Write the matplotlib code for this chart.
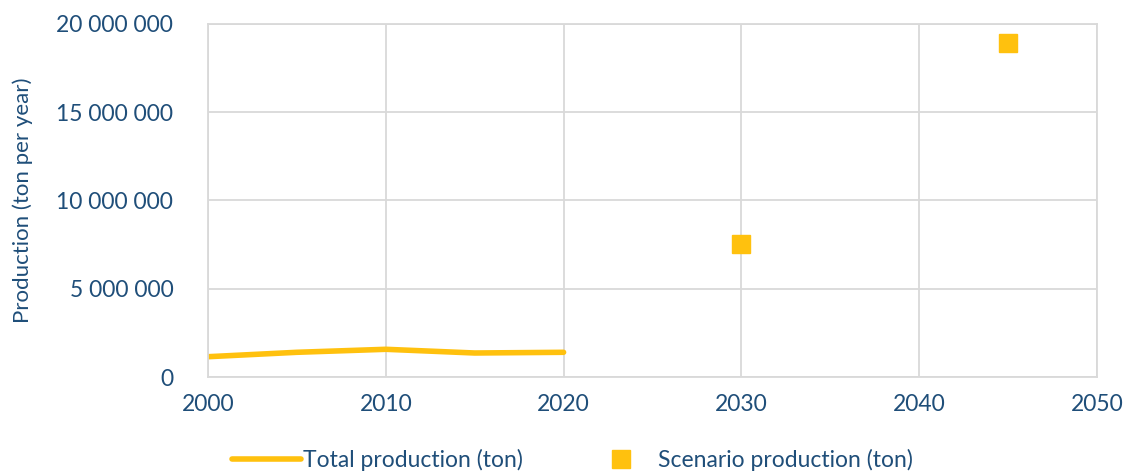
import matplotlib.pyplot as plt
from matplotlib.ticker import FuncFormatter

# Data
years = [2000, 2005, 2010, 2015, 2020]
total_production = [1150000, 1400000, 1570000, 1360000, 1400000]
scenario_years = [2030, 2045]
scenario_production = [7540000, 18920000]

text_color = '#1F4E79'
yellow = '#FFC10E'
grid_color = '#D9D9D9'

plt.rcParams['font.family'] = ['Lato', 'DejaVu Sans']

fig = plt.figure(figsize=(11.28, 4.75), dpi=100)
ax = fig.add_axes([0.1844, 0.2063, 0.7881, 0.7432])

ax.plot(years, total_production, color=yellow, linewidth=4,
        solid_capstyle='round', label='Total production (ton)')
ax.plot(scenario_years, scenario_production, linestyle='none', marker='s',
        markersize=12.5, color=yellow, label='Scenario production (ton)')

ax.set_xlim(2000, 2050)
ax.set_ylim(0, 20000000)
ax.set_xticks(range(2000, 2051, 10))
ax.set_yticks(range(0, 20000001, 5000000))
ax.yaxis.set_major_formatter(FuncFormatter(lambda v, p: f'{int(v):,}'.replace(',', ' ')))

ax.grid(True, color=grid_color, linewidth=1.3)
ax.set_axisbelow(True)
for s in ax.spines.values():
    s.set_color(grid_color)
    s.set_linewidth(1.3)
ax.tick_params(length=0, labelsize=16.5, colors=text_color, pad=25)
ax.tick_params(axis='x', pad=12)

ax.set_ylabel('Production (ton per year)', fontsize=16, color=text_color, labelpad=17)

ax.legend(loc='center', bbox_to_anchor=(0.41, -0.235), ncol=2, frameon=False,
          fontsize=16.5, labelcolor=text_color, handlelength=3, handletextpad=0.1,
          columnspacing=2.8)

fig.savefig('out.png', dpi=100)
